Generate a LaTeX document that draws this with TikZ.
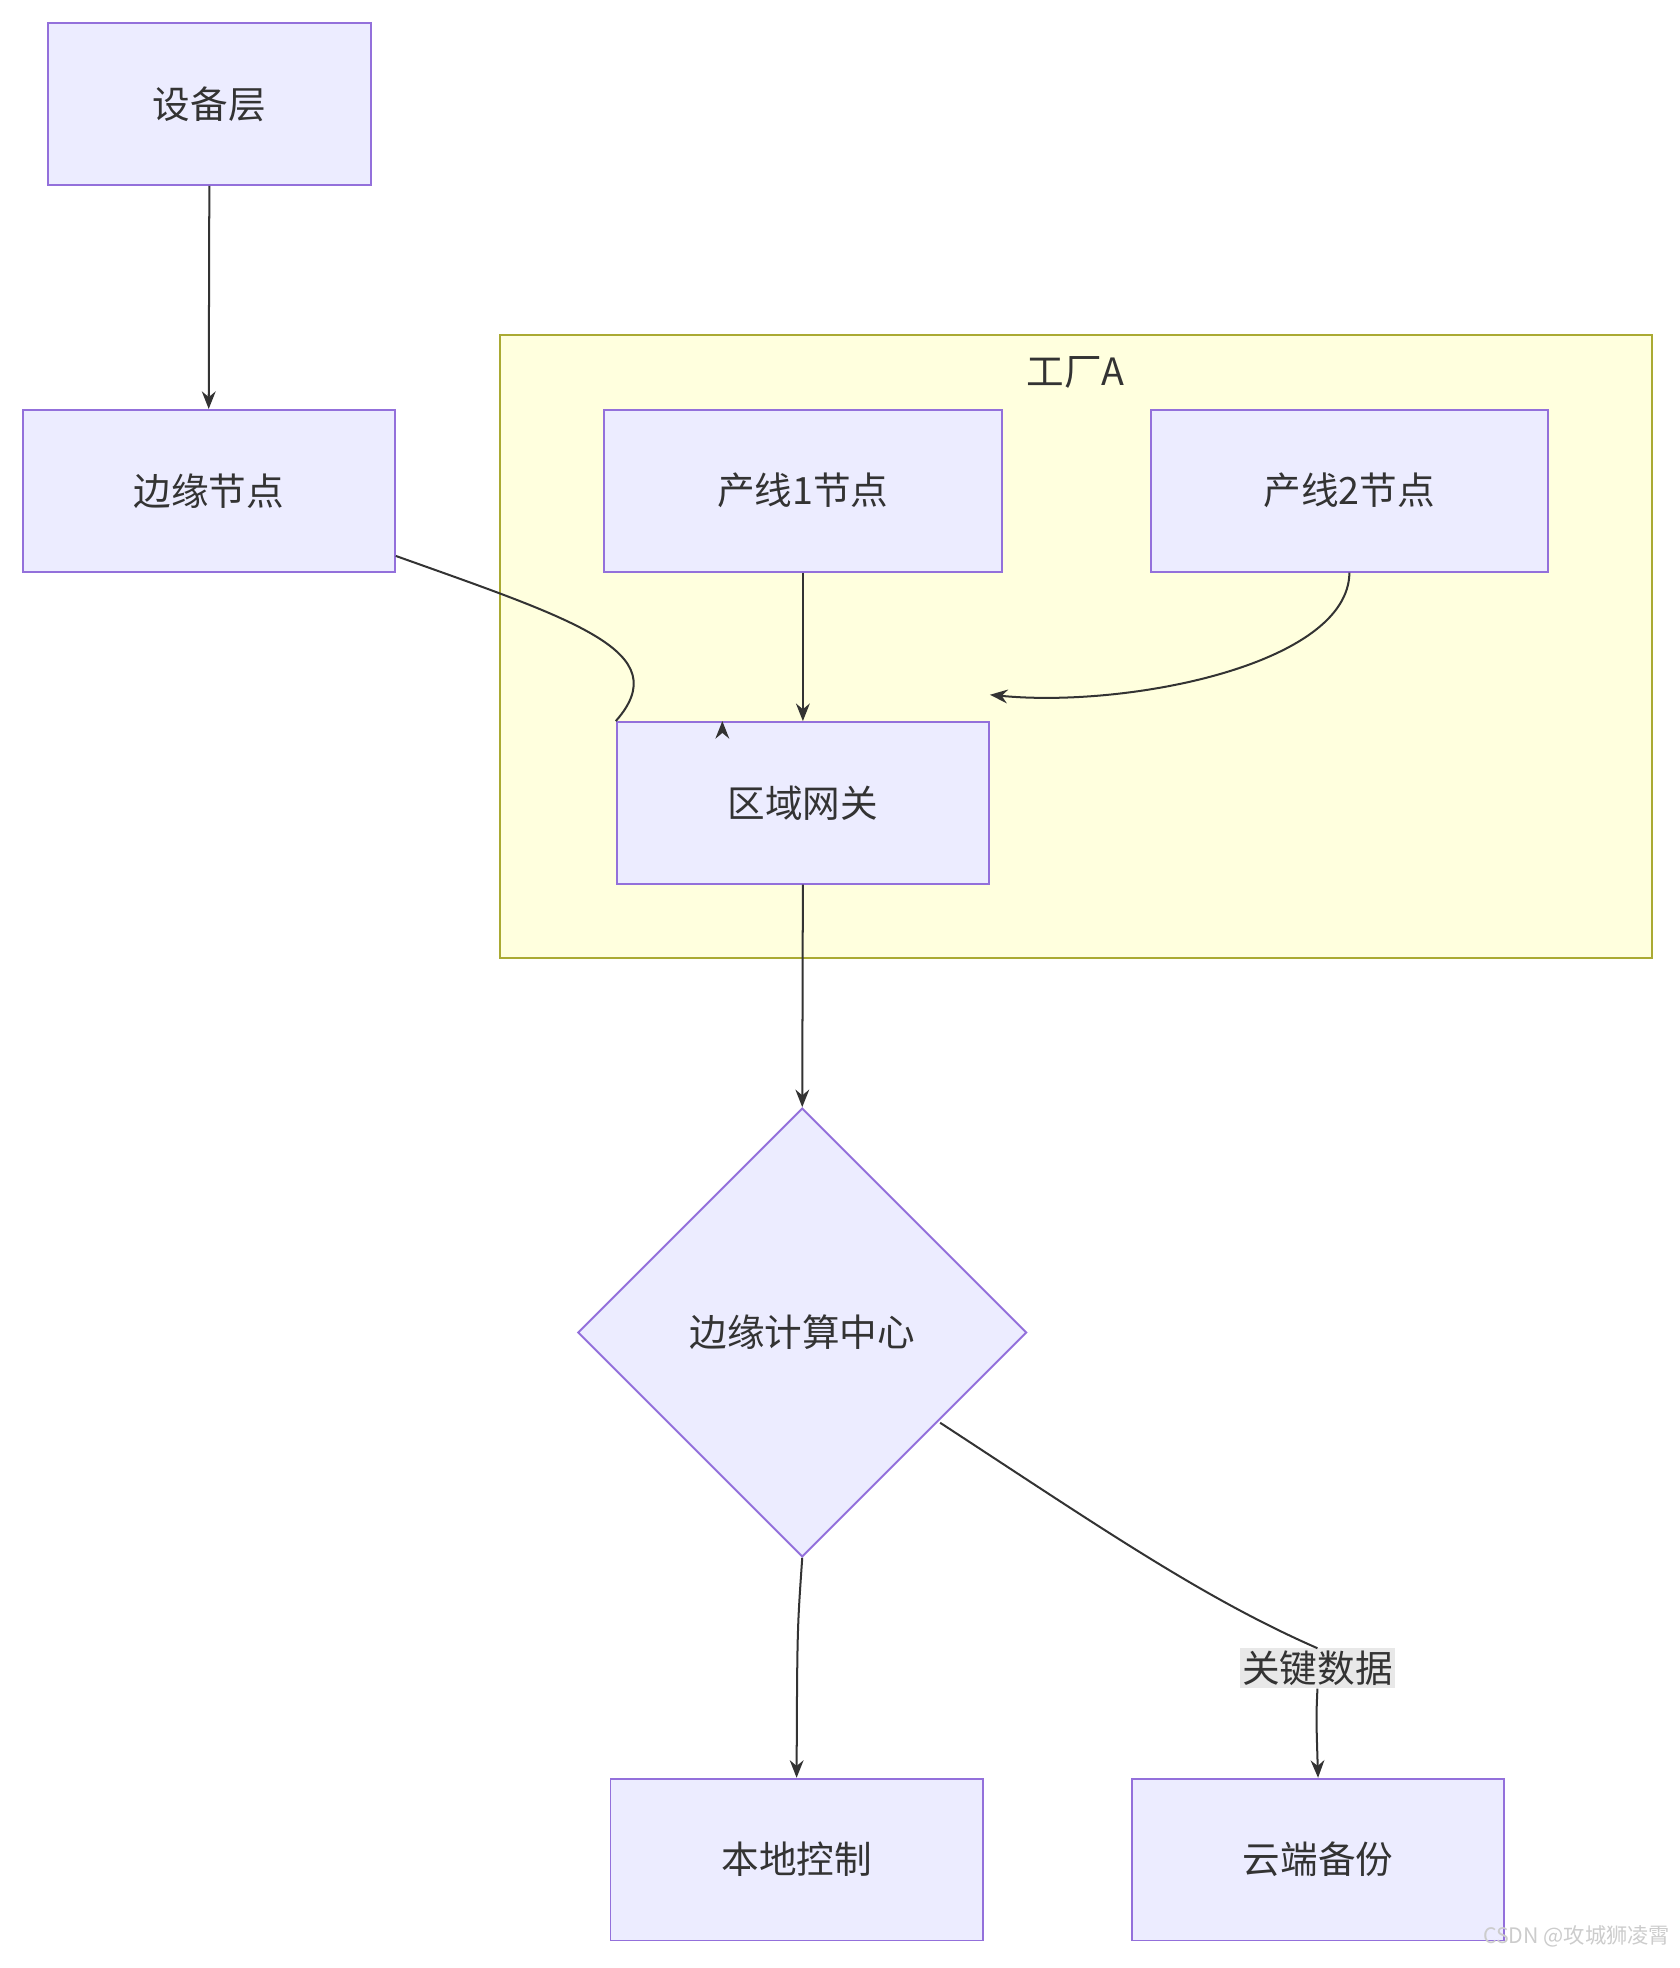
\documentclass[tikz,border=0pt]{standalone}
\usepackage{fontspec}
\setmainfont{Noto Sans CJK SC}
\usetikzlibrary{shapes.geometric,arrows.meta}
\definecolor{nfill}{HTML}{ECECFF}
\definecolor{nline}{HTML}{9370DB}
\definecolor{txt}{HTML}{333333}
\definecolor{cfill}{HTML}{FFFFDE}
\definecolor{cline}{HTML}{AAAA33}
\definecolor{lbg}{HTML}{E8E8E8}
\begin{document}
\begin{tikzpicture}[x=1pt,y=-1pt,
  box/.style={draw=nline,fill=nfill,line width=1.5pt,minimum width=297pt,minimum height=129pt,text=txt,font=\fontsize{30}{36}\selectfont,inner sep=0},
  dia/.style={diamond,draw=nline,fill=nfill,line width=1.5pt,minimum width=358pt,minimum height=358pt,text=txt,font=\fontsize{30}{36}\selectfont,inner sep=0},
  edge/.style={draw=txt,line width=1.6pt,-{Stealth[length=14pt,width=11pt]}}]
\useasboundingbox (0,0) rectangle (1340,1570);
\node[draw=cline,fill=cfill,line width=1.5pt,minimum width=919pt,minimum height=497pt,inner sep=0] (cl) at (858.5,515.5) {};
\node[text=txt,font=\fontsize{30}{36}\selectfont] (cll) at (858,297) {工厂A};
\node[box,minimum width=258pt] (sb) at (167,83) {设备层};
\node[box] (by) at (166.5,391.5) {边缘节点};
\node[box,minimum width=317pt] (p1) at (640.5,391.5) {产线1节点};
\node[box,minimum width=317pt] (p2) at (1076.5,391.5) {产线2节点};
\node[box] (gw) at (640.5,640.5) {区域网关};
\node[dia] (ec) at (640,1063) {边缘计算中心};
\node[box] (lc) at (635.5,1483.5) {本地控制};
\node[box] (cb) at (1051.5,1483.5) {云端备份};
\node[fill=lbg,text=txt,font=\fontsize{30}{36}\selectfont,inner sep=2pt] (kl) at (1051,1331) {关键数据};
\node[text=gray!40,font=\fontsize{17}{20}\selectfont,anchor=east] (wm) at (1336,1545) {CSDN @攻城狮凌霄};
\draw[edge] (sb.south) -- (by.north);
\draw[edge] (by.east) ++(0,52) coordinate (a1) .. controls (460,495) and (540,520) .. (gw.north west) ++(85,0) coordinate (a2);
\draw[edge] (p1.south) -- (gw.north);
\draw[edge] (p2.south) .. controls (1076,530) and (900,565) .. ([yshift=21pt]gw.north east);
\draw[edge] (gw.south) -- (ec.north);
\draw[edge] (ec.south) .. controls (636,1300) .. (lc.north);
\draw[line width=1.6pt,draw=txt] (750,1135) .. controls (880,1220) and (960,1275) .. (kl.north);
\draw[edge] (kl.south) .. controls (1050,1370) .. (cb.north);
\end{tikzpicture}
\end{document}
